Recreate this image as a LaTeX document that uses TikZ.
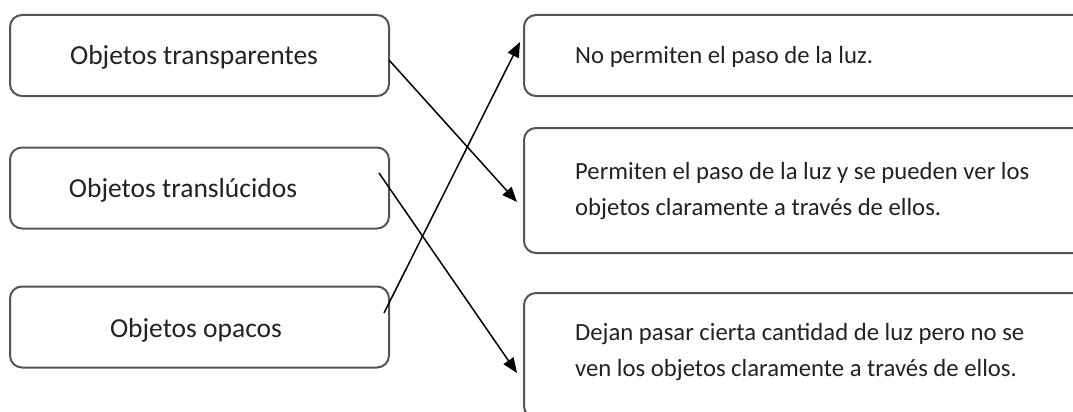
\documentclass[tikz,border=0pt]{standalone}
\usepackage{fontspec}
\setmainfont{Carlito}
\usetikzlibrary{arrows.meta,calc}
\definecolor{boxline}{HTML}{555555}
\definecolor{txt}{HTML}{222222}
\tikzset{
  lbox/.style={draw=boxline, line width=2pt, rounded corners=12pt, minimum width=379pt, minimum height=81pt, inner sep=0pt},
  rbox/.style={draw=boxline, line width=2pt, rounded corners=12pt, minimum width=600pt, inner sep=0pt, anchor=west},
  ltext/.style={text=txt, font=\fontsize{27.5}{36}\selectfont, inner sep=0pt},
  rtext/.style={text=txt, font=\fontsize{24.7}{36}\selectfont, inner sep=0pt, anchor=west, align=left},
  conn/.style={draw=black, line width=1.5pt, -{Triangle[length=15pt,width=12pt]}}
}
\begin{document}
\begin{tikzpicture}[x=1pt,y=-1pt]
\clip (0,0) rectangle (1073,412);
\fill[white] (0,0) rectangle (1073,412);
% left boxes
\node[lbox] (l1) at (199.5,55.5) {};
\node[lbox] (l2) at (199.5,188) {};
\node[lbox] (l3) at (199.5,327) {};
\node[ltext] (t1) at (194,57) {Objetos transparentes};
\node[ltext] (t2) at (183,190) {Objetos translúcidos};
\node[ltext] (t3) at (196,330) {Objetos opacos};
% right boxes
\node[rbox, minimum height=81pt] (r1) at (523,55.5) {};
\node[rbox, minimum height=125pt] (r2) at (523,190.5) {};
\node[rbox, minimum height=125pt] (r3) at (523,355.5) {};
\node[rtext] (u1) at (575,57) {No permiten el paso de la luz.};
\node[rtext] (u2) at (575,191) {Permiten el paso de la luz y se pueden ver los\\objetos claramente a través de ellos.};
\node[rtext] (u3) at (575,352) {Dejan pasar cierta cantidad de luz pero no se\\ven los objetos claramente a través de ellos.};
% connectors
\draw[conn] ([shift={(-1,4.5)}]l1.east) -- ([shift={(-6,11.5)}]r2.west);
\draw[conn] ([shift={(-11,-15)}]l2.east) -- ([shift={(-6,17.5)}]r3.west);
\draw[conn] ([shift={(-6,-14)}]l3.east) -- ([shift={(-3,-13.5)}]r1.west);
\end{tikzpicture}
\end{document}
